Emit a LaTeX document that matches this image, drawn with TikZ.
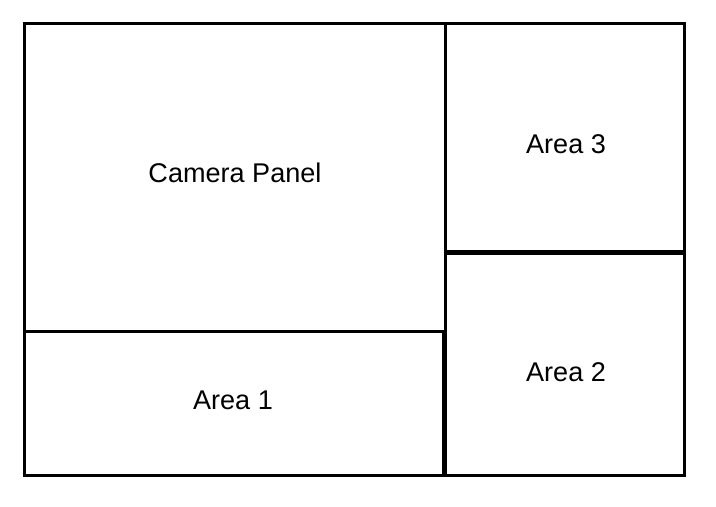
\documentclass[tikz,border=0pt]{standalone}
\usepackage{fontspec}
\setmainfont{Liberation Sans}
\usetikzlibrary{positioning}

\begin{document}
\begin{tikzpicture}[
    x=0.75pt, y=-0.75pt,
    panel/.style={line width=2.25pt},
    lbl/.style={font=\fontsize{20.3}{23}\selectfont, inner sep=0pt}
]
\useasboundingbox (0,0) rectangle (716,506);

% Panels
\draw[panel] (24.5,23.5) rectangle (445.5,331.5);
\draw[panel] (24.5,331.5) rectangle (443.5,475.5);
\draw[panel] (445.5,23.5) rectangle (684.5,251.5);
\draw[panel] (445.5,253.5) rectangle (684.5,475.5);

% Labels
\node[lbl] (camera) at (235,173) {Camera Panel};
\node[lbl] (area3) at (566,144) {Area 3};
\node[lbl] (area2) at (566,372) {Area 2};
\node[lbl] (area1) at (233,400) {Area 1};

\end{tikzpicture}
\end{document}
